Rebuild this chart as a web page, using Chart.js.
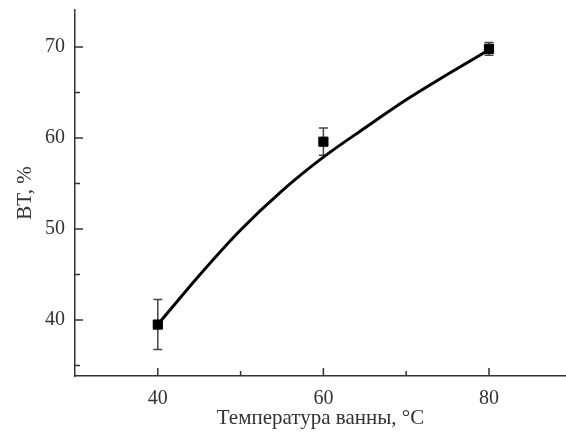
<!DOCTYPE html>
<html lang="ru">
<head>
    <meta charset="UTF-8" />
    <title>BT</title>
    <script src="https://cdn.jsdelivr.net/npm/chart.js"></script>
    <style>
        html, body { margin: 0; padding: 0; background: #fff; overflow: hidden; }
        canvas { display: block; }
    </style>
</head>
<body>
    <canvas id="grafico" width="566" height="432"></canvas>

    <script>
        // Dados
        const temperaturas = [40, 60, 80];
        const valoresBT = [39.5, 59.6, 69.8];
        const erros = [2.75, 1.5, 0.7];

        // Curva ajustada
        const curvaX = [40, 45, 50, 55, 60, 65, 70, 75, 80];
        const curvaY = [39.5, 44.9, 49.9, 54.2, 57.9, 61.1, 64.2, 67.0, 69.7];

        const ticksX = [40, 60, 80];
        const ticksXmenor = [50, 70];
        const ticksY = [40, 50, 60, 70];
        const ticksYmenor = [35, 45, 55, 65];

        const corEixo = "#333";
        const fonte = "'Liberation Serif', 'DejaVu Serif', serif";

        // Barras de erro (desenhadas antes das séries)
        const barrasErro = {
            id: "barrasErro",
            beforeDatasetsDraw(chart) {
                const { ctx, scales: { x, y } } = chart;
                ctx.save();
                ctx.strokeStyle = "#444";
                ctx.lineWidth = 1.5;
                temperaturas.forEach((t, i) => {
                    const px = x.getPixelForValue(t);
                    const topo = y.getPixelForValue(valoresBT[i] + erros[i]);
                    const base = y.getPixelForValue(valoresBT[i] - erros[i]);
                    ctx.beginPath();
                    ctx.moveTo(px, topo); ctx.lineTo(px, base);
                    ctx.moveTo(px - 4.5, topo); ctx.lineTo(px + 4.5, topo);
                    ctx.moveTo(px - 4.5, base); ctx.lineTo(px + 4.5, base);
                    ctx.stroke();
                });
                ctx.restore();
            }
        };

        // Marcas dos eixos para dentro
        const marcasInternas = {
            id: "marcasInternas",
            afterDraw(chart) {
                const { ctx, scales: { x, y } } = chart;
                const area = chart.chartArea;
                ctx.save();
                ctx.strokeStyle = corEixo;
                ctx.lineWidth = 1.5;
                ctx.beginPath();
                ticksX.forEach(v => { const p = x.getPixelForValue(v); ctx.moveTo(p, area.bottom); ctx.lineTo(p, area.bottom - 8); });
                ticksXmenor.forEach(v => { const p = x.getPixelForValue(v); ctx.moveTo(p, area.bottom); ctx.lineTo(p, area.bottom - 5); });
                ticksY.forEach(v => { const p = y.getPixelForValue(v); ctx.moveTo(area.left, p); ctx.lineTo(area.left + 8, p); });
                ticksYmenor.forEach(v => { const p = y.getPixelForValue(v); ctx.moveTo(area.left, p); ctx.lineTo(area.left + 5, p); });
                ctx.stroke();
                ctx.restore();
            }
        };

        const ctx = document.getElementById("grafico").getContext("2d");
        new Chart(ctx, {
            type: "scatter",
            data: {
                datasets: [
                    {
                        label: "Curva",
                        data: curvaX.map((t, i) => ({ x: t, y: curvaY[i] })),
                        showLine: true,
                        borderColor: "#000",
                        borderWidth: 3,
                        cubicInterpolationMode: "monotone",
                        pointRadius: 0,
                        order: 2
                    },
                    {
                        label: "BT",
                        data: temperaturas.map((t, i) => ({ x: t, y: valoresBT[i] })),
                        pointStyle: "rect",
                        pointRadius: 6.5,
                        pointBackgroundColor: "#000",
                        pointBorderColor: "#000",
                        pointBorderWidth: 1,
                        order: 1
                    }
                ]
            },
            options: {
                responsive: false,
                animation: false,
                layout: { autoPadding: false, padding: { top: 10, right: 0, bottom: 0, left: 0 } },
                plugins: {
                    legend: { display: false },
                    tooltip: { enabled: false }
                },
                scales: {
                    x: {
                        type: "linear",
                        min: 30,
                        max: 89.3,
                        afterBuildTicks: s => { s.ticks = ticksX.map(v => ({ value: v })); },
                        afterFit: s => { s.height = 56; s.paddingLeft = 0; s.paddingRight = 0; },
                        grid: { display: false, drawTicks: false },
                        border: { display: true, color: corEixo, width: 1.5 },
                        ticks: { color: "#333", padding: 11, font: { family: fonte, size: 20 } },
                        title: {
                            display: true,
                            text: "Температура ванны, °C",
                            color: "#333",
                            padding: { top: 0, bottom: 1 },
                            font: { family: fonte, size: 21 }
                        }
                    },
                    y: {
                        min: 33.85,
                        max: 74.07,
                        afterBuildTicks: s => { s.ticks = ticksY.map(v => ({ value: v })); },
                        afterFit: s => { s.width = 75; s.paddingTop = 0; s.paddingBottom = 0; },
                        grid: { display: false, drawTicks: false },
                        border: { display: true, color: corEixo, width: 1.5 },
                        ticks: { color: "#333", padding: 10, font: { family: fonte, size: 20 } },
                        title: {
                            display: true,
                            text: "BT, %",
                            color: "#333",
                            padding: { top: 13, bottom: 0 },
                            font: { family: fonte, size: 21 }
                        }
                    }
                }
            },
            plugins: [barrasErro, marcasInternas]
        });
    </script>
</body>
</html>
